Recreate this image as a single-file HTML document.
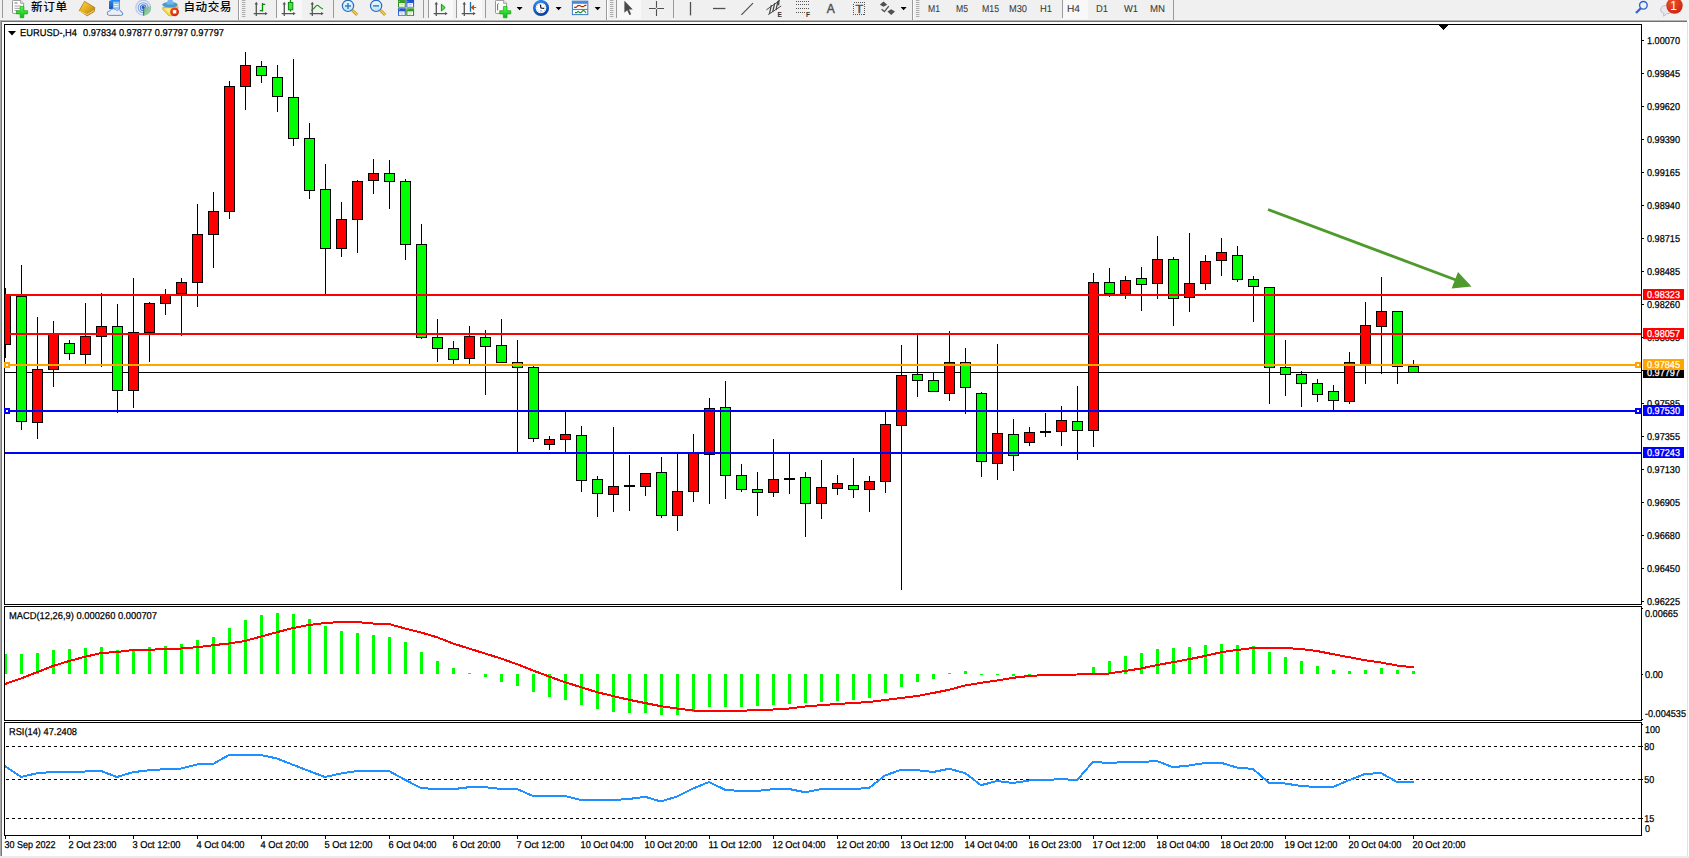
<!DOCTYPE html>
<html lang="zh"><head><meta charset="utf-8"><title>EURUSD-,H4</title>
<style>html,body{margin:0;padding:0;background:#fff;overflow:hidden}svg{display:block}text{font-family:"Liberation Sans","Noto Sans CJK SC",sans-serif;}.ax{font-size:10px;fill:#000;stroke:#000;stroke-width:0.25px;text-rendering:geometricPrecision}.tb{font-size:11px;fill:#404040}.cn{font-size:11.6px;fill:#000;font-weight:500}</style></head><body>
<svg width="1689" height="858" viewBox="0 0 1689 858">
<rect width="1689" height="858" fill="#fff"/>
<g id="toolbar">
<rect x="0" y="0" width="1689" height="20" fill="#f0f0f0"/>
<rect x="0" y="19" width="1689" height="1" fill="#f4f4f4"/>
<rect x="0" y="20" width="1687" height="1" fill="#b4b4b4"/>
<rect x="0" y="21" width="1687" height="1" fill="#707070"/>
<defs>
<linearGradient id="gGold" x1="0" y1="0" x2="1" y2="1"><stop offset="0" stop-color="#f9dc4a"/><stop offset="0.55" stop-color="#e0a81c"/><stop offset="1" stop-color="#a8700c"/></linearGradient>
<linearGradient id="gPlus" x1="0" y1="0" x2="0" y2="1"><stop offset="0" stop-color="#4dff4d"/><stop offset="1" stop-color="#0fb80f"/></linearGradient>
<linearGradient id="gBlue" x1="0" y1="0" x2="0" y2="1"><stop offset="0" stop-color="#2d8cf0"/><stop offset="1" stop-color="#1257b8"/></linearGradient>
<linearGradient id="gGreen" x1="0" y1="0" x2="0" y2="1"><stop offset="0" stop-color="#3aa024"/><stop offset="1" stop-color="#2c8a18"/></linearGradient>
<linearGradient id="gTileB" x1="0" y1="0" x2="0" y2="1"><stop offset="0" stop-color="#1c4fc8"/><stop offset="1" stop-color="#3a6fe0"/></linearGradient>
<radialGradient id="gRed" cx="0.4" cy="0.3" r="0.8"><stop offset="0" stop-color="#f0502a"/><stop offset="1" stop-color="#c8200c"/></radialGradient>
<linearGradient id="gLens" x1="0" y1="0" x2="0" y2="1"><stop offset="0" stop-color="#f4fbff"/><stop offset="1" stop-color="#b8e2fa"/></linearGradient>
<linearGradient id="gClock" x1="0" y1="0" x2="0.4" y2="1"><stop offset="0" stop-color="#2f8ff4"/><stop offset="1" stop-color="#0a44a4"/></linearGradient>
</defs>
<!-- selected-button backgrounds -->
<g shape-rendering="crispEdges">
<rect x="277" y="0" width="25" height="19" fill="#f8f8f8"/>
<rect x="429" y="0" width="24" height="19" fill="#f8f8f8"/>
<rect x="457" y="0" width="25" height="19" fill="#f8f8f8"/>
<rect x="617" y="0" width="24" height="19" fill="#f8f8f8"/>
<rect x="1063" y="0" width="25" height="19" fill="#f8f8f8"/>
<!-- separators -->
<g fill="#9a9a9a">
<rect x="2" y="0" width="1" height="18"/>
<rect x="238" y="0" width="1" height="20"/>
<rect x="276" y="0" width="1" height="18"/>
<rect x="333" y="0" width="1" height="18"/>
<rect x="423" y="0" width="1" height="18"/>
<rect x="428" y="0" width="1" height="18"/>
<rect x="456" y="0" width="1" height="18"/>
<rect x="485" y="0" width="1" height="18"/>
<rect x="606" y="0" width="1" height="20"/>
<rect x="616" y="0" width="1" height="18"/>
<rect x="673" y="0" width="1" height="18"/>
<rect x="912" y="0" width="1" height="20"/>
<rect x="1062" y="0" width="1" height="18"/>
<rect x="1173" y="0" width="1" height="20"/>
</g>
<g fill="#fff">
<rect x="239" y="0" width="1" height="19"/>
<rect x="607" y="0" width="1" height="19"/>
<rect x="913" y="0" width="1" height="19"/>
</g>
</g>
<g transform="translate(242,0)" stroke="#a4a4a4" stroke-width="0.9"><path d="M0 0.5H3.4M0 2.5H3.4M0 4.5H3.4M0 6.5H3.4M0 8.5H3.4M0 10.5H3.4M0 12.5H3.4M0 14.5H3.4M0 16.5H3.4"/></g>
<g transform="translate(610,0)" stroke="#a4a4a4" stroke-width="0.9"><path d="M0 0.5H3.4M0 2.5H3.4M0 4.5H3.4M0 6.5H3.4M0 8.5H3.4M0 10.5H3.4M0 12.5H3.4M0 14.5H3.4M0 16.5H3.4"/></g>
<g transform="translate(916,0)" stroke="#a4a4a4" stroke-width="0.9"><path d="M0 0.5H3.4M0 2.5H3.4M0 4.5H3.4M0 6.5H3.4M0 8.5H3.4M0 10.5H3.4M0 12.5H3.4M0 14.5H3.4M0 16.5H3.4"/></g>

<!-- 1 new order -->
<g transform="translate(12,0)"><path d="M0.5 1.2Q0.5 0.4 1.3 0.4H8.6L11.6 3.4V12.6Q11.6 13.4 10.8 13.4H1.3Q0.5 13.4 0.5 12.6Z" fill="#fff" stroke="#8a8a8a" stroke-width="0.9"/><path d="M8.6 0.4V3.4H11.6" fill="#e4e4e4" stroke="#8a8a8a" stroke-width="0.7"/></g>
<g stroke="#9a9a9a" stroke-width="0.9"><path d="M14.5 3H17.5" stroke-width="1.4"/><path d="M14.5 6H21M14.5 8.3H21M14.5 10.6H18"/></g>
<g transform="translate(16,6)"><path d="M4.2 0.6H7.8V4.7H11.6V7.9H7.8V11.7H4.2V7.9H0.5V4.7H4.2Z" fill="url(#gPlus)" stroke="#16a016" stroke-width="0.7"/></g>
<text class="cn" x="31" y="11.4" textLength="36" lengthAdjust="spacing">新订单</text>
<!-- 2 gold book -->
<path d="M79.2 10.6L84.6 1.4L94.8 7.6L94.2 11.6L87.2 15.8Z" fill="url(#gGold)" stroke="#a06a10" stroke-width="0.7"/>
<path d="M80 11.4L87.2 14.6L94 10.4" fill="none" stroke="#f6dd86" stroke-width="0.9"/>
<!-- 3 server + cloud -->
<path d="M109 1L113 -0.5H120V9H109Z" fill="url(#gBlue)"/>
<path d="M113 1.6H119.6V9H113Z" fill="#8fc4f4"/>
<path d="M114 4.6H118.6M114 6.6H118.6" stroke="#fff" stroke-width="0.9"/>
<path d="M109.6 15.4Q107 15.4 107.2 13Q107.4 10.9 109.8 11Q110.6 8.6 113.4 8.7Q115.6 8.8 116.6 10.4Q118.2 9.2 119.8 10Q121.2 10.8 121 12Q123 12.2 122.8 14Q122.6 15.4 120.8 15.4Z" fill="#e9eef8" stroke="#5b7fc0" stroke-width="0.9"/>
<!-- 4 signals radar -->
<g fill="none">
<circle cx="143.2" cy="7.7" r="7.4" stroke="#b7c8ea" stroke-width="1.2"/>
<circle cx="143.2" cy="7.7" r="5" stroke="#7f9fe0" stroke-width="1.1"/>
<circle cx="143.2" cy="7.7" r="2.8" stroke="#4f7ad8" stroke-width="1.1"/>
</g>
<path d="M143.2 7.7L143.2 15.6A7.9 7.9 0 0 0 151 6.2Z" fill="#7fc28a" opacity="0.75"/>
<circle cx="143.2" cy="7.4" r="1.6" fill="#2456d0"/>
<path d="M143.6 8.5V15.6" stroke="#22a022" stroke-width="1.3"/>
<!-- 5 auto trading -->
<path d="M162.6 7.6L178 6.6L177.4 10L172 16L168.4 15.4L163 9.6Z" fill="#f5d64a" stroke="#d0a018" stroke-width="0.7"/><path d="M164.6 8.6L170.6 8.2L169.4 13.6Z" fill="#fdf0a0" opacity="0.8"/>
<ellipse cx="170" cy="4.8" rx="7.8" ry="2.8" fill="#4a98d0"/>
<path d="M166.4 4.4Q167 -0.6 170.2 -0.8Q173.4 -0.6 174 4.4Z" fill="#6fb8e8"/>
<circle cx="174.6" cy="11.8" r="4.4" fill="url(#gRed)"/>
<rect x="172.9" y="10.1" width="3.4" height="3.4" fill="#fff"/>
<text class="cn" x="183.4" y="11.4" textLength="48" lengthAdjust="spacing">自动交易</text>

<!-- chart-type icons -->
<g transform="translate(253.7,0)"><path d="M2.6 3V16M0 13.6H12.4" fill="none" stroke="#555" stroke-width="1.3"/><path d="M0.9 4.4L2.6 1.8L4.3 4.4ZM11.4 11.9L14 13.6L11.4 15.3Z" fill="#555"/></g>
<path d="M262.5 3V11.6M262.5 4.4H265.2M259.8 10.6H262.5" stroke="#0a8a0a" stroke-width="1.3" fill="none"/>
<g transform="translate(281.7,0)"><path d="M2.6 3V16M0 13.6H12.4" fill="none" stroke="#555" stroke-width="1.3"/><path d="M0.9 4.4L2.6 1.8L4.3 4.4ZM11.4 11.9L14 13.6L11.4 15.3Z" fill="#555"/></g>
<path d="M290.5 0V11.6" stroke="#0a8a0a" stroke-width="1.2"/>
<rect x="288.4" y="2.4" width="4.4" height="7.4" fill="#46e046" stroke="#0a8a0a" stroke-width="1"/>
<g transform="translate(309.7,0)"><path d="M2.6 3V16M0 13.6H12.4" fill="none" stroke="#555" stroke-width="1.3"/><path d="M0.9 4.4L2.6 1.8L4.3 4.4ZM11.4 11.9L14 13.6L11.4 15.3Z" fill="#555"/></g>
<path d="M311.2 10.6Q313.6 9 315.2 6.8Q316.8 4.6 318.2 5.6Q320.6 8 323 9" stroke="#1c9a1c" stroke-width="1.2" fill="none"/>

<!-- zoom in / out -->
<path d="M352.4 10.2L357.2 15" stroke="#c89a14" stroke-width="3" stroke-linecap="butt"/>
<path d="M352.4 10.2L357.2 15" stroke="#f0d060" stroke-width="1.2"/>
<circle cx="348" cy="5.9" r="5.6" fill="url(#gLens)" stroke="#2a6ec0" stroke-width="1.2"/>
<path d="M345 5.9H351M348 2.9V8.9" stroke="#3a7fb8" stroke-width="1.5"/>
<path d="M380.4 10.2L385.2 15" stroke="#c89a14" stroke-width="3"/>
<path d="M380.4 10.2L385.2 15" stroke="#f0d060" stroke-width="1.2"/>
<circle cx="376.1" cy="5.9" r="5.6" fill="url(#gLens)" stroke="#2a6ec0" stroke-width="1.2"/>
<path d="M373.1 5.9H379.1" stroke="#3a7fb8" stroke-width="1.5"/>
<!-- tile windows -->
<rect x="398" y="0" width="7.8" height="7.6" fill="url(#gGreen)"/><rect x="399.1" y="3.1" width="5.6" height="3.7" fill="#fff"/><rect x="400.2" y="4.2" width="3.4" height="1" fill="#b4dca8"/><rect x="401.2" y="6" width="1.4" height="0.8" fill="#b4dca8"/><circle cx="399.6" cy="1.5" r="0.45" fill="#fff" opacity="0.8"/>
<rect x="406.3" y="0" width="7.8" height="7.6" fill="url(#gTileB)"/><rect x="407.40000000000003" y="3.1" width="5.6" height="3.7" fill="#fff"/><rect x="408.5" y="4.2" width="3.4" height="1" fill="#a8b8f4"/><rect x="409.5" y="6" width="1.4" height="0.8" fill="#a8b8f4"/><circle cx="407.90000000000003" cy="1.5" r="0.45" fill="#fff" opacity="0.8"/>
<rect x="398" y="8.3" width="7.8" height="7.6" fill="url(#gTileB)"/><rect x="399.1" y="11.4" width="5.6" height="3.7" fill="#fff"/><rect x="400.2" y="12.5" width="3.4" height="1" fill="#a8b8f4"/><rect x="401.2" y="14.3" width="1.4" height="0.8" fill="#a8b8f4"/><circle cx="399.6" cy="9.8" r="0.45" fill="#fff" opacity="0.8"/>
<rect x="406.3" y="8.3" width="7.8" height="7.6" fill="url(#gGreen)"/><rect x="407.40000000000003" y="11.4" width="5.6" height="3.7" fill="#fff"/><rect x="408.5" y="12.5" width="3.4" height="1" fill="#b4dca8"/><rect x="409.5" y="14.3" width="1.4" height="0.8" fill="#b4dca8"/><circle cx="407.90000000000003" cy="9.8" r="0.45" fill="#fff" opacity="0.8"/>

<!-- autoscroll / shift -->
<g transform="translate(433.7,0)"><path d="M2.6 3V16M0 13.6H12.4" fill="none" stroke="#555" stroke-width="1.3"/><path d="M0.9 4.4L2.6 1.8L4.3 4.4ZM11.4 11.9L14 13.6L11.4 15.3Z" fill="#555"/></g>
<path d="M441.4 4.2V11L445.2 7.6Z" fill="#5fe05f" stroke="#0a9a0a" stroke-width="1"/>
<g transform="translate(461.7,0)"><path d="M2.6 3V16M0 13.6H12.4" fill="none" stroke="#555" stroke-width="1.3"/><path d="M0.9 4.4L2.6 1.8L4.3 4.4ZM11.4 11.9L14 13.6L11.4 15.3Z" fill="#555"/></g>
<path d="M470.5 2V11.8" stroke="#1c6ea8" stroke-width="1.3"/>
<path d="M471.6 7.5H476.2M474 5.4L471.6 7.5L474 9.6" stroke="#d04808" stroke-width="1.2" fill="#d04808"/>

<!-- indicators -->
<g transform="translate(495,0)"><path d="M0.5 1.2Q0.5 0.4 1.3 0.4H8.6L11.6 3.4V12.6Q11.6 13.4 10.8 13.4H1.3Q0.5 13.4 0.5 12.6Z" fill="#fff" stroke="#8a8a8a" stroke-width="0.9"/><path d="M8.6 0.4V3.4H11.6" fill="#e4e4e4" stroke="#8a8a8a" stroke-width="0.7"/></g>
<path d="M498.6 3.4Q497.6 3.6 497.6 5V10.5" stroke="#6a5a3a" stroke-width="0.9" fill="none"/>
<g transform="translate(499.2,6)"><path d="M4.2 0.6H7.8V4.7H11.6V7.9H7.8V11.7H4.2V7.9H0.5V4.7H4.2Z" fill="url(#gPlus)" stroke="#16a016" stroke-width="0.7"/></g>
<g transform="translate(516.6,7)"><polygon points="0,0 6,0 3,3.2" fill="#000"/></g>
<!-- clock -->
<rect x="539.4" y="-1" width="3.2" height="2" fill="#1660c0"/>
<circle cx="541" cy="8" r="6.7" fill="#fff" stroke="url(#gClock)" stroke-width="2.7"/>
<circle cx="541" cy="8" r="4.3" fill="none" stroke="#8a8a8a" stroke-width="0.9" stroke-dasharray="0.6 1.65"/>
<path d="M540.4 4.6L541 8L544.2 8.4" stroke="#111" stroke-width="1.2" fill="none"/>
<path d="M540 10.8H542" stroke="#5aa0f0" stroke-width="0.8"/>
<g transform="translate(555.6,7)"><polygon points="0,0 6,0 3,3.2" fill="#000"/></g>
<!-- template -->
<rect x="572.4" y="1.2" width="15.4" height="13.4" fill="#fff" stroke="#3a78c8" stroke-width="1"/>
<rect x="572.4" y="1.2" width="15.4" height="2.6" fill="#4a88d8"/>
<path d="M572.4 9.4H587.8" stroke="#3a78c8" stroke-width="1"/>
<path d="M574.2 7.4H576L578 5.6H580L581.6 6.6H583.4L585 5.4H586.4" stroke="#b02808" stroke-width="1.1" fill="none"/>
<path d="M575 12.6H576.6L578.2 11.4L579.8 12.6H581L583 10.4L584.4 11L586 12.8" stroke="#18901c" stroke-width="1.1" fill="none"/>
<g transform="translate(594.6,7)"><polygon points="0,0 6,0 3,3.2" fill="#000"/></g>

<!-- cursor / crosshair -->
<path d="M624.4 0.8V12.8L627.2 10.2L629.4 15L631.2 14.2L629 9.6H632.8Z" fill="#4a4a4a"/>
<path d="M656.5 1V16M649 8.5H664" stroke="#505050" stroke-width="1.1"/>
<rect x="655.8" y="7.8" width="1.4" height="1.4" fill="#f0f0f0"/>
<!-- line tools -->
<path d="M690.5 2V15.4" stroke="#505050" stroke-width="1.3"/>
<path d="M713 8.5H725.4" stroke="#505050" stroke-width="1.3"/>
<path d="M741.4 14.8L753 3.2" stroke="#505050" stroke-width="1.2"/>
<g stroke="#484848" stroke-width="1" fill="none">
<path d="M766.4 9.8L779.8 0.4M768.2 14.6L781.2 6"/>
<path d="M769.4 14L771.4 5.2M772.7 12L774.7 3.2M776 10L778 1M778.6 5.4L779 0" stroke-width="1.25"/>
</g>
<text x="777.6" y="17" style="font-size:6.6px;font-weight:bold;fill:#333">E</text>
<g stroke="#555" stroke-width="1" stroke-dasharray="1 1" shape-rendering="crispEdges">
<path d="M796 1.5H809.5M796 4.5H809.5M796 8.5H809.5M796 12.5H805"/>
</g>
<text x="806" y="17" style="font-size:6.6px;font-weight:bold;fill:#333">F</text>
<text x="826.8" y="12.7" textLength="8" lengthAdjust="spacingAndGlyphs" style="font-size:12.6px;fill:#505050;stroke:#505050;stroke-width:0.45px">A</text>
<rect x="853.5" y="2.5" width="11" height="12" fill="none" stroke="#555" stroke-width="1" stroke-dasharray="1 1" shape-rendering="crispEdges"/>
<text x="855.4" y="12.6" textLength="7.6" lengthAdjust="spacingAndGlyphs" style="font-size:10.6px;fill:#505050;stroke:#505050;stroke-width:0.45px">T</text>
<path d="M879.8 4.8L883.5 1.6L887.2 4.8L883.5 6.8Z M887.4 11.6L891.2 9.2L895 11.6L891.2 15Z" fill="#505050"/>
<path d="M881.6 9.2L884.4 11.6L888.8 6.2" stroke="#505050" stroke-width="1.3" fill="none"/>
<g transform="translate(900.6,7)"><polygon points="0,0 6,0 3,3.2" fill="#000"/></g>

<!-- timeframes -->
<g class="ax" style="fill:#383838;stroke:#383838;stroke-width:0.08px">
<text x="928" y="12" textLength="12" lengthAdjust="spacingAndGlyphs">M1</text>
<text x="956" y="12" textLength="12" lengthAdjust="spacingAndGlyphs">M5</text>
<text x="982" y="12" textLength="17" lengthAdjust="spacingAndGlyphs">M15</text>
<text x="1009" y="12" textLength="18" lengthAdjust="spacingAndGlyphs">M30</text>
<text x="1040" y="12" textLength="12" lengthAdjust="spacingAndGlyphs">H1</text>
<text x="1067" y="12" textLength="13" lengthAdjust="spacingAndGlyphs">H4</text>
<text x="1096" y="12" textLength="12" lengthAdjust="spacingAndGlyphs">D1</text>
<text x="1124" y="12" textLength="14" lengthAdjust="spacingAndGlyphs">W1</text>
<text x="1150" y="12" textLength="15" lengthAdjust="spacingAndGlyphs">MN</text>
</g>

<!-- search + chat -->
<circle cx="1643.4" cy="5.3" r="3.8" fill="none" stroke="#2f62d4" stroke-width="1.4"/>
<path d="M1640.8 8.2L1636 13" stroke="#2f62d4" stroke-width="2.2"/>
<path d="M1660.6 10Q1660.6 5.4 1666.4 5.4Q1672.2 5.4 1672.2 10Q1672.2 13.6 1666.6 13.8L1663.6 16.2L1663.8 13.4Q1660.6 12.6 1660.6 10Z" fill="#e4e6f0" stroke="#b4b6c0" stroke-width="0.8"/>
<circle cx="1674.5" cy="5.6" r="8.2" fill="url(#gRed)"/>
<text x="1670.2" y="9.8" style="font-size:12px;fill:#fff">1</text>

</g>
<g id="frame" shape-rendering="crispEdges">
<rect x="0" y="20" width="1" height="837" fill="#a8a8a8"/>
<rect x="1" y="21" width="1" height="835" fill="#787878"/>
<rect x="1687" y="22" width="1" height="836" fill="#e3e3e3"/>
<rect x="0" y="856" width="1689" height="2" fill="#ececec"/>
<rect x="4" y="24" width="1638" height="1" fill="#000"/>
<rect x="4" y="604" width="1638" height="1" fill="#000"/>
<rect x="4" y="24" width="1" height="581" fill="#000"/>
<rect x="1641" y="24" width="1" height="581" fill="#000"/>
<rect x="4" y="606" width="1638" height="1" fill="#000"/>
<rect x="4" y="720" width="1638" height="1" fill="#000"/>
<rect x="4" y="606" width="1" height="115" fill="#000"/>
<rect x="1641" y="606" width="1" height="115" fill="#000"/>
<rect x="4" y="722" width="1638" height="1" fill="#000"/>
<rect x="4" y="835" width="1638" height="1" fill="#000"/>
<rect x="4" y="722" width="1" height="114" fill="#000"/>
<rect x="1641" y="722" width="1" height="114" fill="#000"/>
</g>
<g id="main" shape-rendering="crispEdges">
<rect x="5" y="372" width="1636" height="1" fill="#000"/>
<rect x="1439" y="25" width="9" height="1" fill="#000"/>
<rect x="1440" y="26" width="7" height="1" fill="#000"/>
<rect x="1441" y="27" width="5" height="1" fill="#000"/>
<rect x="1442" y="28" width="3" height="1" fill="#000"/>
<rect x="1443" y="29" width="1" height="1" fill="#000"/>
<rect x="5" y="288" width="1" height="70" fill="#000"/>
<rect x="5" y="294" width="6" height="51" fill="#000"/>
<rect x="5" y="295" width="5" height="49" fill="#ff0000"/>
<rect x="21" y="265" width="1" height="165" fill="#000"/>
<rect x="16" y="296" width="11" height="126" fill="#000"/>
<rect x="17" y="297" width="9" height="124" fill="#00ff00"/>
<rect x="37" y="317" width="1" height="122" fill="#000"/>
<rect x="32" y="369" width="11" height="54" fill="#000"/>
<rect x="33" y="370" width="9" height="52" fill="#ff0000"/>
<rect x="53" y="321" width="1" height="66" fill="#000"/>
<rect x="48" y="333" width="11" height="37" fill="#000"/>
<rect x="49" y="334" width="9" height="35" fill="#ff0000"/>
<rect x="69" y="340" width="1" height="20" fill="#000"/>
<rect x="64" y="343" width="11" height="11" fill="#000"/>
<rect x="65" y="344" width="9" height="9" fill="#00ff00"/>
<rect x="85" y="303" width="1" height="61" fill="#000"/>
<rect x="80" y="336" width="11" height="19" fill="#000"/>
<rect x="81" y="337" width="9" height="17" fill="#ff0000"/>
<rect x="101" y="293" width="1" height="74" fill="#000"/>
<rect x="96" y="326" width="11" height="11" fill="#000"/>
<rect x="97" y="327" width="9" height="9" fill="#ff0000"/>
<rect x="117" y="304" width="1" height="109" fill="#000"/>
<rect x="112" y="326" width="11" height="65" fill="#000"/>
<rect x="113" y="327" width="9" height="63" fill="#00ff00"/>
<rect x="133" y="278" width="1" height="130" fill="#000"/>
<rect x="128" y="332" width="11" height="59" fill="#000"/>
<rect x="129" y="333" width="9" height="57" fill="#ff0000"/>
<rect x="149" y="302" width="1" height="60" fill="#000"/>
<rect x="144" y="303" width="11" height="30" fill="#000"/>
<rect x="145" y="304" width="9" height="28" fill="#ff0000"/>
<rect x="165" y="289" width="1" height="26" fill="#000"/>
<rect x="160" y="294" width="11" height="10" fill="#000"/>
<rect x="161" y="295" width="9" height="8" fill="#ff0000"/>
<rect x="181" y="278" width="1" height="58" fill="#000"/>
<rect x="176" y="282" width="11" height="12" fill="#000"/>
<rect x="177" y="283" width="9" height="10" fill="#ff0000"/>
<rect x="197" y="204" width="1" height="103" fill="#000"/>
<rect x="192" y="234" width="11" height="49" fill="#000"/>
<rect x="193" y="235" width="9" height="47" fill="#ff0000"/>
<rect x="213" y="192" width="1" height="76" fill="#000"/>
<rect x="208" y="211" width="11" height="24" fill="#000"/>
<rect x="209" y="212" width="9" height="22" fill="#ff0000"/>
<rect x="229" y="81" width="1" height="138" fill="#000"/>
<rect x="224" y="86" width="11" height="126" fill="#000"/>
<rect x="225" y="87" width="9" height="124" fill="#ff0000"/>
<rect x="245" y="52" width="1" height="58" fill="#000"/>
<rect x="240" y="65" width="11" height="22" fill="#000"/>
<rect x="241" y="66" width="9" height="20" fill="#ff0000"/>
<rect x="261" y="61" width="1" height="22" fill="#000"/>
<rect x="256" y="66" width="11" height="10" fill="#000"/>
<rect x="257" y="67" width="9" height="8" fill="#00ff00"/>
<rect x="277" y="65" width="1" height="47" fill="#000"/>
<rect x="272" y="77" width="11" height="20" fill="#000"/>
<rect x="273" y="78" width="9" height="18" fill="#00ff00"/>
<rect x="293" y="59" width="1" height="87" fill="#000"/>
<rect x="288" y="97" width="11" height="42" fill="#000"/>
<rect x="289" y="98" width="9" height="40" fill="#00ff00"/>
<rect x="309" y="123" width="1" height="76" fill="#000"/>
<rect x="304" y="138" width="11" height="53" fill="#000"/>
<rect x="305" y="139" width="9" height="51" fill="#00ff00"/>
<rect x="325" y="164" width="1" height="130" fill="#000"/>
<rect x="320" y="189" width="11" height="60" fill="#000"/>
<rect x="321" y="190" width="9" height="58" fill="#00ff00"/>
<rect x="341" y="202" width="1" height="55" fill="#000"/>
<rect x="336" y="219" width="11" height="30" fill="#000"/>
<rect x="337" y="220" width="9" height="28" fill="#ff0000"/>
<rect x="357" y="180" width="1" height="73" fill="#000"/>
<rect x="352" y="181" width="11" height="39" fill="#000"/>
<rect x="353" y="182" width="9" height="37" fill="#ff0000"/>
<rect x="373" y="159" width="1" height="35" fill="#000"/>
<rect x="368" y="173" width="11" height="8" fill="#000"/>
<rect x="369" y="174" width="9" height="6" fill="#ff0000"/>
<rect x="389" y="160" width="1" height="49" fill="#000"/>
<rect x="384" y="173" width="11" height="9" fill="#000"/>
<rect x="385" y="174" width="9" height="7" fill="#00ff00"/>
<rect x="405" y="179" width="1" height="81" fill="#000"/>
<rect x="400" y="181" width="11" height="64" fill="#000"/>
<rect x="401" y="182" width="9" height="62" fill="#00ff00"/>
<rect x="421" y="224" width="1" height="115" fill="#000"/>
<rect x="416" y="244" width="11" height="94" fill="#000"/>
<rect x="417" y="245" width="9" height="92" fill="#00ff00"/>
<rect x="437" y="319" width="1" height="43" fill="#000"/>
<rect x="432" y="337" width="11" height="12" fill="#000"/>
<rect x="433" y="338" width="9" height="10" fill="#00ff00"/>
<rect x="453" y="341" width="1" height="23" fill="#000"/>
<rect x="448" y="348" width="11" height="12" fill="#000"/>
<rect x="449" y="349" width="9" height="10" fill="#00ff00"/>
<rect x="469" y="326" width="1" height="38" fill="#000"/>
<rect x="464" y="336" width="11" height="23" fill="#000"/>
<rect x="465" y="337" width="9" height="21" fill="#ff0000"/>
<rect x="485" y="330" width="1" height="65" fill="#000"/>
<rect x="480" y="337" width="11" height="10" fill="#000"/>
<rect x="481" y="338" width="9" height="8" fill="#00ff00"/>
<rect x="501" y="319" width="1" height="44" fill="#000"/>
<rect x="496" y="345" width="11" height="18" fill="#000"/>
<rect x="497" y="346" width="9" height="16" fill="#00ff00"/>
<rect x="517" y="340" width="1" height="112" fill="#000"/>
<rect x="512" y="362" width="11" height="6" fill="#000"/>
<rect x="513" y="363" width="9" height="4" fill="#00ff00"/>
<rect x="533" y="366" width="1" height="76" fill="#000"/>
<rect x="528" y="367" width="11" height="72" fill="#000"/>
<rect x="529" y="368" width="9" height="70" fill="#00ff00"/>
<rect x="549" y="436" width="1" height="14" fill="#000"/>
<rect x="544" y="439" width="11" height="6" fill="#000"/>
<rect x="545" y="440" width="9" height="4" fill="#ff0000"/>
<rect x="565" y="412" width="1" height="40" fill="#000"/>
<rect x="560" y="434" width="11" height="6" fill="#000"/>
<rect x="561" y="435" width="9" height="4" fill="#ff0000"/>
<rect x="581" y="426" width="1" height="66" fill="#000"/>
<rect x="576" y="435" width="11" height="46" fill="#000"/>
<rect x="577" y="436" width="9" height="44" fill="#00ff00"/>
<rect x="597" y="476" width="1" height="41" fill="#000"/>
<rect x="592" y="479" width="11" height="15" fill="#000"/>
<rect x="593" y="480" width="9" height="13" fill="#00ff00"/>
<rect x="613" y="427" width="1" height="85" fill="#000"/>
<rect x="608" y="486" width="11" height="9" fill="#000"/>
<rect x="609" y="487" width="9" height="7" fill="#ff0000"/>
<rect x="629" y="455" width="1" height="56" fill="#000"/>
<rect x="624" y="485" width="11" height="2" fill="#000"/>
<rect x="645" y="473" width="1" height="23" fill="#000"/>
<rect x="640" y="473" width="11" height="14" fill="#000"/>
<rect x="641" y="474" width="9" height="12" fill="#ff0000"/>
<rect x="661" y="457" width="1" height="61" fill="#000"/>
<rect x="656" y="472" width="11" height="44" fill="#000"/>
<rect x="657" y="473" width="9" height="42" fill="#00ff00"/>
<rect x="677" y="454" width="1" height="77" fill="#000"/>
<rect x="672" y="491" width="11" height="25" fill="#000"/>
<rect x="673" y="492" width="9" height="23" fill="#ff0000"/>
<rect x="693" y="434" width="1" height="68" fill="#000"/>
<rect x="688" y="452" width="11" height="40" fill="#000"/>
<rect x="689" y="453" width="9" height="38" fill="#ff0000"/>
<rect x="709" y="398" width="1" height="106" fill="#000"/>
<rect x="704" y="408" width="11" height="47" fill="#000"/>
<rect x="705" y="409" width="9" height="45" fill="#ff0000"/>
<rect x="725" y="381" width="1" height="118" fill="#000"/>
<rect x="720" y="407" width="11" height="69" fill="#000"/>
<rect x="721" y="408" width="9" height="67" fill="#00ff00"/>
<rect x="741" y="464" width="1" height="28" fill="#000"/>
<rect x="736" y="475" width="11" height="15" fill="#000"/>
<rect x="737" y="476" width="9" height="13" fill="#00ff00"/>
<rect x="757" y="472" width="1" height="44" fill="#000"/>
<rect x="752" y="489" width="11" height="4" fill="#000"/>
<rect x="753" y="490" width="9" height="2" fill="#00ff00"/>
<rect x="773" y="439" width="1" height="58" fill="#000"/>
<rect x="768" y="479" width="11" height="14" fill="#000"/>
<rect x="769" y="480" width="9" height="12" fill="#ff0000"/>
<rect x="789" y="454" width="1" height="40" fill="#000"/>
<rect x="784" y="478" width="11" height="2" fill="#000"/>
<rect x="805" y="472" width="1" height="65" fill="#000"/>
<rect x="800" y="477" width="11" height="27" fill="#000"/>
<rect x="801" y="478" width="9" height="25" fill="#00ff00"/>
<rect x="821" y="460" width="1" height="59" fill="#000"/>
<rect x="816" y="487" width="11" height="17" fill="#000"/>
<rect x="817" y="488" width="9" height="15" fill="#ff0000"/>
<rect x="837" y="475" width="1" height="20" fill="#000"/>
<rect x="832" y="483" width="11" height="6" fill="#000"/>
<rect x="833" y="484" width="9" height="4" fill="#ff0000"/>
<rect x="853" y="458" width="1" height="40" fill="#000"/>
<rect x="848" y="485" width="11" height="5" fill="#000"/>
<rect x="849" y="486" width="9" height="3" fill="#00ff00"/>
<rect x="869" y="476" width="1" height="36" fill="#000"/>
<rect x="864" y="481" width="11" height="9" fill="#000"/>
<rect x="865" y="482" width="9" height="7" fill="#ff0000"/>
<rect x="885" y="411" width="1" height="82" fill="#000"/>
<rect x="880" y="424" width="11" height="58" fill="#000"/>
<rect x="881" y="425" width="9" height="56" fill="#ff0000"/>
<rect x="901" y="345" width="1" height="245" fill="#000"/>
<rect x="896" y="375" width="11" height="51" fill="#000"/>
<rect x="897" y="376" width="9" height="49" fill="#ff0000"/>
<rect x="917" y="335" width="1" height="62" fill="#000"/>
<rect x="912" y="374" width="11" height="7" fill="#000"/>
<rect x="913" y="375" width="9" height="5" fill="#00ff00"/>
<rect x="933" y="372" width="1" height="20" fill="#000"/>
<rect x="928" y="380" width="11" height="12" fill="#000"/>
<rect x="929" y="381" width="9" height="10" fill="#00ff00"/>
<rect x="949" y="331" width="1" height="70" fill="#000"/>
<rect x="944" y="362" width="11" height="32" fill="#000"/>
<rect x="945" y="363" width="9" height="30" fill="#ff0000"/>
<rect x="965" y="348" width="1" height="66" fill="#000"/>
<rect x="960" y="362" width="11" height="26" fill="#000"/>
<rect x="961" y="363" width="9" height="24" fill="#00ff00"/>
<rect x="981" y="392" width="1" height="85" fill="#000"/>
<rect x="976" y="393" width="11" height="69" fill="#000"/>
<rect x="977" y="394" width="9" height="67" fill="#00ff00"/>
<rect x="997" y="344" width="1" height="136" fill="#000"/>
<rect x="992" y="433" width="11" height="31" fill="#000"/>
<rect x="993" y="434" width="9" height="29" fill="#ff0000"/>
<rect x="1013" y="419" width="1" height="52" fill="#000"/>
<rect x="1008" y="434" width="11" height="22" fill="#000"/>
<rect x="1009" y="435" width="9" height="20" fill="#00ff00"/>
<rect x="1029" y="427" width="1" height="19" fill="#000"/>
<rect x="1024" y="432" width="11" height="11" fill="#000"/>
<rect x="1025" y="433" width="9" height="9" fill="#ff0000"/>
<rect x="1045" y="413" width="1" height="24" fill="#000"/>
<rect x="1040" y="431" width="11" height="2" fill="#000"/>
<rect x="1061" y="406" width="1" height="40" fill="#000"/>
<rect x="1056" y="420" width="11" height="12" fill="#000"/>
<rect x="1057" y="421" width="9" height="10" fill="#ff0000"/>
<rect x="1077" y="386" width="1" height="74" fill="#000"/>
<rect x="1072" y="421" width="11" height="10" fill="#000"/>
<rect x="1073" y="422" width="9" height="8" fill="#00ff00"/>
<rect x="1093" y="273" width="1" height="174" fill="#000"/>
<rect x="1088" y="282" width="11" height="149" fill="#000"/>
<rect x="1089" y="283" width="9" height="147" fill="#ff0000"/>
<rect x="1109" y="268" width="1" height="29" fill="#000"/>
<rect x="1104" y="282" width="11" height="12" fill="#000"/>
<rect x="1105" y="283" width="9" height="10" fill="#00ff00"/>
<rect x="1125" y="276" width="1" height="23" fill="#000"/>
<rect x="1120" y="280" width="11" height="14" fill="#000"/>
<rect x="1121" y="281" width="9" height="12" fill="#ff0000"/>
<rect x="1141" y="267" width="1" height="44" fill="#000"/>
<rect x="1136" y="278" width="11" height="7" fill="#000"/>
<rect x="1137" y="279" width="9" height="5" fill="#00ff00"/>
<rect x="1157" y="236" width="1" height="63" fill="#000"/>
<rect x="1152" y="259" width="11" height="25" fill="#000"/>
<rect x="1153" y="260" width="9" height="23" fill="#ff0000"/>
<rect x="1173" y="257" width="1" height="69" fill="#000"/>
<rect x="1168" y="259" width="11" height="40" fill="#000"/>
<rect x="1169" y="260" width="9" height="38" fill="#00ff00"/>
<rect x="1189" y="233" width="1" height="79" fill="#000"/>
<rect x="1184" y="283" width="11" height="15" fill="#000"/>
<rect x="1185" y="284" width="9" height="13" fill="#ff0000"/>
<rect x="1205" y="255" width="1" height="35" fill="#000"/>
<rect x="1200" y="261" width="11" height="23" fill="#000"/>
<rect x="1201" y="262" width="9" height="21" fill="#ff0000"/>
<rect x="1221" y="238" width="1" height="38" fill="#000"/>
<rect x="1216" y="252" width="11" height="9" fill="#000"/>
<rect x="1217" y="253" width="9" height="7" fill="#ff0000"/>
<rect x="1237" y="246" width="1" height="36" fill="#000"/>
<rect x="1232" y="255" width="11" height="25" fill="#000"/>
<rect x="1233" y="256" width="9" height="23" fill="#00ff00"/>
<rect x="1253" y="276" width="1" height="46" fill="#000"/>
<rect x="1248" y="279" width="11" height="8" fill="#000"/>
<rect x="1249" y="280" width="9" height="6" fill="#00ff00"/>
<rect x="1269" y="287" width="1" height="117" fill="#000"/>
<rect x="1264" y="287" width="11" height="81" fill="#000"/>
<rect x="1265" y="288" width="9" height="79" fill="#00ff00"/>
<rect x="1285" y="340" width="1" height="56" fill="#000"/>
<rect x="1280" y="367" width="11" height="8" fill="#000"/>
<rect x="1281" y="368" width="9" height="6" fill="#00ff00"/>
<rect x="1301" y="371" width="1" height="36" fill="#000"/>
<rect x="1296" y="374" width="11" height="10" fill="#000"/>
<rect x="1297" y="375" width="9" height="8" fill="#00ff00"/>
<rect x="1317" y="379" width="1" height="23" fill="#000"/>
<rect x="1312" y="383" width="11" height="12" fill="#000"/>
<rect x="1313" y="384" width="9" height="10" fill="#00ff00"/>
<rect x="1333" y="385" width="1" height="25" fill="#000"/>
<rect x="1328" y="391" width="11" height="10" fill="#000"/>
<rect x="1329" y="392" width="9" height="8" fill="#00ff00"/>
<rect x="1349" y="352" width="1" height="52" fill="#000"/>
<rect x="1344" y="362" width="11" height="40" fill="#000"/>
<rect x="1345" y="363" width="9" height="38" fill="#ff0000"/>
<rect x="1365" y="302" width="1" height="82" fill="#000"/>
<rect x="1360" y="325" width="11" height="40" fill="#000"/>
<rect x="1361" y="326" width="9" height="38" fill="#ff0000"/>
<rect x="1381" y="277" width="1" height="97" fill="#000"/>
<rect x="1376" y="311" width="11" height="16" fill="#000"/>
<rect x="1377" y="312" width="9" height="14" fill="#ff0000"/>
<rect x="1397" y="311" width="1" height="73" fill="#000"/>
<rect x="1392" y="311" width="11" height="56" fill="#000"/>
<rect x="1393" y="312" width="9" height="54" fill="#00ff00"/>
<rect x="1413" y="360" width="1" height="13" fill="#000"/>
<rect x="1408" y="366" width="11" height="7" fill="#000"/>
<rect x="1409" y="367" width="9" height="5" fill="#00ff00"/>
<rect x="5" y="294" width="1636" height="2" fill="#ff0000"/>
<rect x="5" y="333" width="1636" height="2" fill="#ff0000"/>
<rect x="5" y="364" width="1636" height="2" fill="#ffa500"/>
<rect x="4" y="362" width="6" height="6" fill="#ffa500"/>
<rect x="6" y="364" width="2" height="2" fill="#fff"/>
<rect x="1635" y="362" width="6" height="6" fill="#ffa500"/>
<rect x="1637" y="364" width="2" height="2" fill="#fff"/>
<rect x="5" y="410" width="1636" height="2" fill="#0000ff"/>
<rect x="4" y="408" width="6" height="6" fill="#0000ff"/>
<rect x="6" y="410" width="2" height="2" fill="#fff"/>
<rect x="1635" y="408" width="6" height="6" fill="#0000ff"/>
<rect x="1637" y="410" width="2" height="2" fill="#fff"/>
<rect x="5" y="452" width="1636" height="2" fill="#0000ff"/>
</g>
<g id="arrow"><line x1="1268" y1="209.5" x2="1456" y2="280" stroke="#4e9a2c" stroke-width="2.9"/><polygon points="1458,272 1471.5,286.4 1451.6,288.6" fill="#4e9a2c"/></g>
<g id="macd" shape-rendering="crispEdges">
<rect x="5" y="654" width="2" height="20" fill="#00ff00"/>
<rect x="20" y="654" width="3" height="20" fill="#00ff00"/>
<rect x="36" y="653" width="3" height="21" fill="#00ff00"/>
<rect x="52" y="650" width="3" height="24" fill="#00ff00"/>
<rect x="68" y="649" width="3" height="25" fill="#00ff00"/>
<rect x="84" y="648" width="3" height="26" fill="#00ff00"/>
<rect x="100" y="647" width="3" height="27" fill="#00ff00"/>
<rect x="116" y="650" width="3" height="24" fill="#00ff00"/>
<rect x="132" y="649" width="3" height="25" fill="#00ff00"/>
<rect x="148" y="647" width="3" height="27" fill="#00ff00"/>
<rect x="164" y="646" width="3" height="28" fill="#00ff00"/>
<rect x="180" y="644" width="3" height="30" fill="#00ff00"/>
<rect x="196" y="640" width="3" height="34" fill="#00ff00"/>
<rect x="212" y="637" width="3" height="37" fill="#00ff00"/>
<rect x="228" y="628" width="3" height="46" fill="#00ff00"/>
<rect x="244" y="620" width="3" height="54" fill="#00ff00"/>
<rect x="260" y="615" width="3" height="59" fill="#00ff00"/>
<rect x="276" y="613" width="3" height="61" fill="#00ff00"/>
<rect x="292" y="614" width="3" height="60" fill="#00ff00"/>
<rect x="308" y="619" width="3" height="55" fill="#00ff00"/>
<rect x="324" y="626" width="3" height="48" fill="#00ff00"/>
<rect x="340" y="631" width="3" height="43" fill="#00ff00"/>
<rect x="356" y="633" width="3" height="41" fill="#00ff00"/>
<rect x="372" y="635" width="3" height="39" fill="#00ff00"/>
<rect x="388" y="637" width="3" height="37" fill="#00ff00"/>
<rect x="404" y="642" width="3" height="32" fill="#00ff00"/>
<rect x="420" y="652" width="3" height="22" fill="#00ff00"/>
<rect x="436" y="661" width="3" height="13" fill="#00ff00"/>
<rect x="452" y="668" width="3" height="6" fill="#00ff00"/>
<rect x="468" y="673" width="3" height="1" fill="#00ff00"/>
<rect x="484" y="674" width="3" height="3" fill="#00ff00"/>
<rect x="500" y="674" width="3" height="8" fill="#00ff00"/>
<rect x="516" y="674" width="3" height="12" fill="#00ff00"/>
<rect x="532" y="674" width="3" height="18" fill="#00ff00"/>
<rect x="548" y="674" width="3" height="23" fill="#00ff00"/>
<rect x="564" y="674" width="3" height="26" fill="#00ff00"/>
<rect x="580" y="674" width="3" height="31" fill="#00ff00"/>
<rect x="596" y="674" width="3" height="35" fill="#00ff00"/>
<rect x="612" y="674" width="3" height="38" fill="#00ff00"/>
<rect x="628" y="674" width="3" height="39" fill="#00ff00"/>
<rect x="644" y="674" width="3" height="39" fill="#00ff00"/>
<rect x="660" y="674" width="3" height="41" fill="#00ff00"/>
<rect x="676" y="674" width="3" height="41" fill="#00ff00"/>
<rect x="692" y="674" width="3" height="38" fill="#00ff00"/>
<rect x="708" y="674" width="3" height="33" fill="#00ff00"/>
<rect x="724" y="674" width="3" height="33" fill="#00ff00"/>
<rect x="740" y="674" width="3" height="33" fill="#00ff00"/>
<rect x="756" y="674" width="3" height="32" fill="#00ff00"/>
<rect x="772" y="674" width="3" height="31" fill="#00ff00"/>
<rect x="788" y="674" width="3" height="30" fill="#00ff00"/>
<rect x="804" y="674" width="3" height="29" fill="#00ff00"/>
<rect x="820" y="674" width="3" height="28" fill="#00ff00"/>
<rect x="836" y="674" width="3" height="27" fill="#00ff00"/>
<rect x="852" y="674" width="3" height="26" fill="#00ff00"/>
<rect x="868" y="674" width="3" height="24" fill="#00ff00"/>
<rect x="884" y="674" width="3" height="19" fill="#00ff00"/>
<rect x="900" y="674" width="3" height="13" fill="#00ff00"/>
<rect x="916" y="674" width="3" height="8" fill="#00ff00"/>
<rect x="932" y="674" width="3" height="5" fill="#00ff00"/>
<rect x="948" y="673" width="3" height="1" fill="#00ff00"/>
<rect x="964" y="671" width="3" height="3" fill="#00ff00"/>
<rect x="980" y="674" width="3" height="1" fill="#00ff00"/>
<rect x="996" y="674" width="3" height="1" fill="#00ff00"/>
<rect x="1012" y="674" width="3" height="2" fill="#00ff00"/>
<rect x="1028" y="674" width="3" height="2" fill="#00ff00"/>
<rect x="1044" y="674" width="3" height="2" fill="#00ff00"/>
<rect x="1092" y="667" width="3" height="7" fill="#00ff00"/>
<rect x="1108" y="661" width="3" height="13" fill="#00ff00"/>
<rect x="1124" y="656" width="3" height="18" fill="#00ff00"/>
<rect x="1140" y="653" width="3" height="21" fill="#00ff00"/>
<rect x="1156" y="649" width="3" height="25" fill="#00ff00"/>
<rect x="1172" y="648" width="3" height="26" fill="#00ff00"/>
<rect x="1188" y="647" width="3" height="27" fill="#00ff00"/>
<rect x="1204" y="645" width="3" height="29" fill="#00ff00"/>
<rect x="1220" y="644" width="3" height="30" fill="#00ff00"/>
<rect x="1236" y="645" width="3" height="29" fill="#00ff00"/>
<rect x="1252" y="646" width="3" height="28" fill="#00ff00"/>
<rect x="1268" y="652" width="3" height="22" fill="#00ff00"/>
<rect x="1284" y="657" width="3" height="17" fill="#00ff00"/>
<rect x="1300" y="661" width="3" height="13" fill="#00ff00"/>
<rect x="1316" y="666" width="3" height="8" fill="#00ff00"/>
<rect x="1332" y="670" width="3" height="4" fill="#00ff00"/>
<rect x="1348" y="671" width="3" height="3" fill="#00ff00"/>
<rect x="1364" y="670" width="3" height="4" fill="#00ff00"/>
<rect x="1380" y="668" width="3" height="6" fill="#00ff00"/>
<rect x="1396" y="670" width="3" height="4" fill="#00ff00"/>
<rect x="1412" y="671" width="3" height="3" fill="#00ff00"/>
<polyline points="5,684.0 21,678.5 37,672.2 53,666.0 69,661.0 85,656.8 101,653.0 117,652.0 133,650.0 149,649.8 165,649.0 181,648.5 197,647.2 213,645.2 229,643.5 245,641.0 261,636.5 277,632.2 293,628.0 309,625.0 325,623.0 341,622.0 357,622.0 373,623.5 389,624.0 405,628.5 421,632.5 437,637.2 453,643.5 469,648.5 485,653.5 501,658.5 517,664.2 533,670.5 549,676.5 565,682.2 581,687.2 597,692.2 613,696.0 629,699.8 645,703.0 661,706.2 677,708.5 693,710.5 709,710.8 725,710.8 741,710.8 757,710.0 773,709.5 789,708.5 805,706.5 821,705.2 837,704.0 853,703.0 869,702.0 885,700.0 901,698.0 917,696.0 933,693.0 949,689.8 965,685.5 981,682.8 997,680.5 1013,677.8 1029,676.0 1045,675.0 1061,674.8 1077,674.5 1093,674.0 1109,673.5 1125,671.0 1141,668.5 1157,665.0 1173,662.2 1189,659.2 1205,656.0 1221,652.2 1237,650.0 1253,648.0 1269,647.8 1285,648.0 1301,649.0 1317,651.0 1333,654.2 1349,657.2 1365,660.2 1381,662.5 1397,665.5 1413,667.2 1414,667.2" fill="none" stroke="#ff0000" stroke-width="2"/>
</g>
<g id="rsi" shape-rendering="crispEdges">
<line x1="6" y1="746.5" x2="1641" y2="746.5" stroke="#000" stroke-width="1" stroke-dasharray="3 3"/>
<line x1="6" y1="779.5" x2="1641" y2="779.5" stroke="#000" stroke-width="1" stroke-dasharray="3 3"/>
<line x1="6" y1="818.5" x2="1641" y2="818.5" stroke="#000" stroke-width="1" stroke-dasharray="3 3"/>
<polyline points="5,766.0 21,777.0 37,773.2 53,772.0 69,772.0 85,771.5 101,771.0 117,777.0 133,772.2 149,770.2 165,769.2 181,768.5 197,764.5 213,764.0 229,755.0 245,754.8 261,755.0 277,758.5 293,764.8 309,771.0 325,777.0 341,773.5 357,771.0 373,771.0 389,771.0 405,779.8 421,788.0 437,789.2 453,789.2 469,787.2 485,787.2 501,789.0 517,789.0 533,796.0 549,796.0 565,796.0 581,800.0 597,800.2 613,800.0 629,799.0 645,796.8 661,801.5 677,796.5 693,788.5 709,782.0 725,789.8 741,791.0 757,791.0 773,789.2 789,789.0 805,792.2 821,789.2 837,789.0 853,789.0 869,788.0 885,775.5 901,769.8 917,770.2 933,772.0 949,768.8 965,773.0 981,785.2 997,781.0 1013,783.0 1029,780.5 1045,780.2 1061,779.0 1077,780.2 1093,761.8 1109,763.0 1125,762.0 1141,762.0 1157,761.0 1173,767.2 1189,765.5 1205,763.0 1221,762.8 1237,767.5 1253,769.0 1269,782.8 1285,783.5 1301,786.0 1317,787.0 1333,787.0 1349,780.2 1365,774.0 1381,773.0 1397,782.0 1413,782.0 1414,782.0" fill="none" stroke="#1e90ff" stroke-width="2"/>
</g>
<g id="axis">
<g shape-rendering="crispEdges">
<rect x="1642" y="40" width="2" height="1" fill="#000"/>
<rect x="1642" y="73" width="2" height="1" fill="#000"/>
<rect x="1642" y="106" width="2" height="1" fill="#000"/>
<rect x="1642" y="139" width="2" height="1" fill="#000"/>
<rect x="1642" y="172" width="2" height="1" fill="#000"/>
<rect x="1642" y="205" width="2" height="1" fill="#000"/>
<rect x="1642" y="238" width="2" height="1" fill="#000"/>
<rect x="1642" y="271" width="2" height="1" fill="#000"/>
<rect x="1642" y="304" width="2" height="1" fill="#000"/>
<rect x="1642" y="337" width="2" height="1" fill="#000"/>
<rect x="1642" y="370" width="2" height="1" fill="#000"/>
<rect x="1642" y="403" width="2" height="1" fill="#000"/>
<rect x="1642" y="436" width="2" height="1" fill="#000"/>
<rect x="1642" y="469" width="2" height="1" fill="#000"/>
<rect x="1642" y="502" width="2" height="1" fill="#000"/>
<rect x="1642" y="535" width="2" height="1" fill="#000"/>
<rect x="1642" y="568" width="2" height="1" fill="#000"/>
<rect x="1642" y="601" width="2" height="1" fill="#000"/>
<rect x="1642" y="608" width="1" height="1" fill="#000"/>
<rect x="1642" y="674" width="1" height="1" fill="#000"/>
<rect x="1642" y="719" width="1" height="1" fill="#000"/>
<rect x="1642" y="724" width="1" height="1" fill="#000"/>
<rect x="1642" y="746" width="1" height="1" fill="#000"/>
<rect x="1642" y="779" width="1" height="1" fill="#000"/>
<rect x="1642" y="818" width="1" height="1" fill="#000"/>
<rect x="5" y="836" width="1" height="3" fill="#000"/>
<rect x="69" y="836" width="1" height="3" fill="#000"/>
<rect x="133" y="836" width="1" height="3" fill="#000"/>
<rect x="197" y="836" width="1" height="3" fill="#000"/>
<rect x="261" y="836" width="1" height="3" fill="#000"/>
<rect x="325" y="836" width="1" height="3" fill="#000"/>
<rect x="389" y="836" width="1" height="3" fill="#000"/>
<rect x="453" y="836" width="1" height="3" fill="#000"/>
<rect x="517" y="836" width="1" height="3" fill="#000"/>
<rect x="581" y="836" width="1" height="3" fill="#000"/>
<rect x="645" y="836" width="1" height="3" fill="#000"/>
<rect x="709" y="836" width="1" height="3" fill="#000"/>
<rect x="773" y="836" width="1" height="3" fill="#000"/>
<rect x="837" y="836" width="1" height="3" fill="#000"/>
<rect x="901" y="836" width="1" height="3" fill="#000"/>
<rect x="965" y="836" width="1" height="3" fill="#000"/>
<rect x="1029" y="836" width="1" height="3" fill="#000"/>
<rect x="1093" y="836" width="1" height="3" fill="#000"/>
<rect x="1157" y="836" width="1" height="3" fill="#000"/>
<rect x="1221" y="836" width="1" height="3" fill="#000"/>
<rect x="1285" y="836" width="1" height="3" fill="#000"/>
<rect x="1349" y="836" width="1" height="3" fill="#000"/>
<rect x="1413" y="836" width="1" height="3" fill="#000"/>
</g>
<text class="ax" x="1647" y="44" textLength="33" lengthAdjust="spacingAndGlyphs">1.00070</text>
<text class="ax" x="1647" y="77" textLength="33" lengthAdjust="spacingAndGlyphs">0.99845</text>
<text class="ax" x="1647" y="110" textLength="33" lengthAdjust="spacingAndGlyphs">0.99620</text>
<text class="ax" x="1647" y="143" textLength="33" lengthAdjust="spacingAndGlyphs">0.99390</text>
<text class="ax" x="1647" y="176" textLength="33" lengthAdjust="spacingAndGlyphs">0.99165</text>
<text class="ax" x="1647" y="209" textLength="33" lengthAdjust="spacingAndGlyphs">0.98940</text>
<text class="ax" x="1647" y="242" textLength="33" lengthAdjust="spacingAndGlyphs">0.98715</text>
<text class="ax" x="1647" y="275" textLength="33" lengthAdjust="spacingAndGlyphs">0.98485</text>
<text class="ax" x="1647" y="308" textLength="33" lengthAdjust="spacingAndGlyphs">0.98260</text>
<text class="ax" x="1647" y="341" textLength="33" lengthAdjust="spacingAndGlyphs">0.98035</text>
<text class="ax" x="1647" y="374" textLength="33" lengthAdjust="spacingAndGlyphs">0.97810</text>
<text class="ax" x="1647" y="407" textLength="33" lengthAdjust="spacingAndGlyphs">0.97585</text>
<text class="ax" x="1647" y="440" textLength="33" lengthAdjust="spacingAndGlyphs">0.97355</text>
<text class="ax" x="1647" y="473" textLength="33" lengthAdjust="spacingAndGlyphs">0.97130</text>
<text class="ax" x="1647" y="506" textLength="33" lengthAdjust="spacingAndGlyphs">0.96905</text>
<text class="ax" x="1647" y="539" textLength="33" lengthAdjust="spacingAndGlyphs">0.96680</text>
<text class="ax" x="1647" y="572" textLength="33" lengthAdjust="spacingAndGlyphs">0.96450</text>
<text class="ax" x="1647" y="605" textLength="33" lengthAdjust="spacingAndGlyphs">0.96225</text>
<rect x="1643" y="367" width="41" height="11" fill="#000" shape-rendering="crispEdges"/>
<text class="ax" x="1647" y="376" textLength="33" lengthAdjust="spacingAndGlyphs" style="fill:#fff;stroke:#fff">0.97797</text>
<rect x="1643" y="289" width="41" height="11" fill="#ff0000" shape-rendering="crispEdges"/>
<text class="ax" x="1647" y="298" textLength="33" lengthAdjust="spacingAndGlyphs" style="fill:#fff;stroke:#fff">0.98323</text>
<rect x="1643" y="328" width="41" height="11" fill="#ff0000" shape-rendering="crispEdges"/>
<text class="ax" x="1647" y="337" textLength="33" lengthAdjust="spacingAndGlyphs" style="fill:#fff;stroke:#fff">0.98057</text>
<rect x="1643" y="359" width="41" height="11" fill="#ffa500" shape-rendering="crispEdges"/>
<text class="ax" x="1647" y="368" textLength="33" lengthAdjust="spacingAndGlyphs" style="fill:#fff;stroke:#fff">0.97845</text>
<rect x="1643" y="405" width="41" height="11" fill="#0000ff" shape-rendering="crispEdges"/>
<text class="ax" x="1647" y="414" textLength="33" lengthAdjust="spacingAndGlyphs" style="fill:#fff;stroke:#fff">0.97530</text>
<rect x="1643" y="447" width="41" height="11" fill="#0000ff" shape-rendering="crispEdges"/>
<text class="ax" x="1647" y="456" textLength="33" lengthAdjust="spacingAndGlyphs" style="fill:#fff;stroke:#fff">0.97243</text>
<text class="ax" x="1645" y="617" textLength="33" lengthAdjust="spacingAndGlyphs">0.00665</text>
<text class="ax" x="1645" y="678" textLength="18" lengthAdjust="spacingAndGlyphs">0.00</text>
<text class="ax" x="1645" y="717" textLength="41" lengthAdjust="spacingAndGlyphs">-0.004535</text>
<text class="ax" x="1645" y="733" textLength="15" lengthAdjust="spacingAndGlyphs">100</text>
<text class="ax" x="1644.3" y="750" textLength="10" lengthAdjust="spacingAndGlyphs">80</text>
<text class="ax" x="1644.3" y="783" textLength="10" lengthAdjust="spacingAndGlyphs">50</text>
<text class="ax" x="1644.3" y="822" textLength="10" lengthAdjust="spacingAndGlyphs">15</text>
<text class="ax" x="1645" y="832" textLength="5" lengthAdjust="spacingAndGlyphs">0</text>
<text class="ax" x="4.5" y="848" textLength="51" lengthAdjust="spacingAndGlyphs">30 Sep 2022</text>
<text class="ax" x="68.5" y="848" textLength="48" lengthAdjust="spacingAndGlyphs">2 Oct 23:00</text>
<text class="ax" x="132.5" y="848" textLength="48" lengthAdjust="spacingAndGlyphs">3 Oct 12:00</text>
<text class="ax" x="196.5" y="848" textLength="48" lengthAdjust="spacingAndGlyphs">4 Oct 04:00</text>
<text class="ax" x="260.5" y="848" textLength="48" lengthAdjust="spacingAndGlyphs">4 Oct 20:00</text>
<text class="ax" x="324.5" y="848" textLength="48" lengthAdjust="spacingAndGlyphs">5 Oct 12:00</text>
<text class="ax" x="388.5" y="848" textLength="48" lengthAdjust="spacingAndGlyphs">6 Oct 04:00</text>
<text class="ax" x="452.5" y="848" textLength="48" lengthAdjust="spacingAndGlyphs">6 Oct 20:00</text>
<text class="ax" x="516.5" y="848" textLength="48" lengthAdjust="spacingAndGlyphs">7 Oct 12:00</text>
<text class="ax" x="580.5" y="848" textLength="53" lengthAdjust="spacingAndGlyphs">10 Oct 04:00</text>
<text class="ax" x="644.5" y="848" textLength="53" lengthAdjust="spacingAndGlyphs">10 Oct 20:00</text>
<text class="ax" x="708.5" y="848" textLength="53" lengthAdjust="spacingAndGlyphs">11 Oct 12:00</text>
<text class="ax" x="772.5" y="848" textLength="53" lengthAdjust="spacingAndGlyphs">12 Oct 04:00</text>
<text class="ax" x="836.5" y="848" textLength="53" lengthAdjust="spacingAndGlyphs">12 Oct 20:00</text>
<text class="ax" x="900.5" y="848" textLength="53" lengthAdjust="spacingAndGlyphs">13 Oct 12:00</text>
<text class="ax" x="964.5" y="848" textLength="53" lengthAdjust="spacingAndGlyphs">14 Oct 04:00</text>
<text class="ax" x="1028.5" y="848" textLength="53" lengthAdjust="spacingAndGlyphs">16 Oct 23:00</text>
<text class="ax" x="1092.5" y="848" textLength="53" lengthAdjust="spacingAndGlyphs">17 Oct 12:00</text>
<text class="ax" x="1156.5" y="848" textLength="53" lengthAdjust="spacingAndGlyphs">18 Oct 04:00</text>
<text class="ax" x="1220.5" y="848" textLength="53" lengthAdjust="spacingAndGlyphs">18 Oct 20:00</text>
<text class="ax" x="1284.5" y="848" textLength="53" lengthAdjust="spacingAndGlyphs">19 Oct 12:00</text>
<text class="ax" x="1348.5" y="848" textLength="53" lengthAdjust="spacingAndGlyphs">20 Oct 04:00</text>
<text class="ax" x="1412.5" y="848" textLength="53" lengthAdjust="spacingAndGlyphs">20 Oct 20:00</text>
<polygon points="8,31 16,31 12,35.5" fill="#000"/>
<text class="ax" x="20" y="36" textLength="57" lengthAdjust="spacingAndGlyphs">EURUSD-,H4</text>
<text class="ax" x="83" y="36" textLength="141" lengthAdjust="spacingAndGlyphs">0.97834 0.97877 0.97797 0.97797</text>
<text class="ax" x="9" y="619" textLength="148" lengthAdjust="spacingAndGlyphs">MACD(12,26,9) 0.000260 0.000707</text>
<text class="ax" x="9" y="735" textLength="68" lengthAdjust="spacingAndGlyphs">RSI(14) 47.2408</text>
</g>
</svg></body></html>
